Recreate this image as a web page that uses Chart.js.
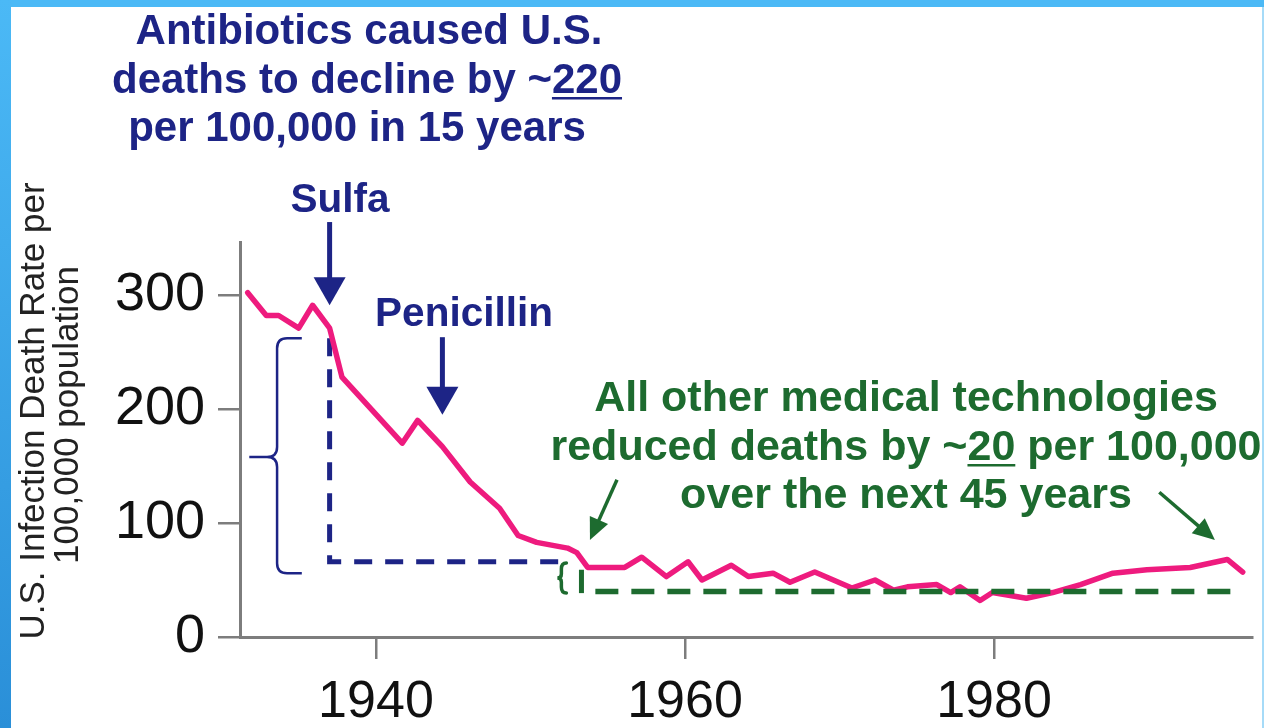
<!DOCTYPE html>
<html><head><meta charset="utf-8">
<script src="https://cdn.jsdelivr.net/npm/chart.js@4"></script>
<style>html,body{margin:0;padding:0;background:#fff;overflow:hidden}#wrap{width:1264px;height:728px;position:relative}canvas{display:block}</style>
</head><body><div id="wrap"><canvas id="c" width="1264" height="728"></canvas></div>
<script>
// ---- data ----
const years = [1931.7,1932.9,1933.7,1935.0,1935.9,1937.0,1937.8,1941.7,1942.7,1944.3,1946.1,1948.0,1949.2,1950.4,1952.4,1953.0,1953.7,1956.1,1957.2,1958.8,1960.2,1961.1,1963.0,1964.1,1965.7,1966.8,1968.4,1970.8,1972.3,1973.5,1974.4,1976.3,1977.2,1977.8,1979.1,1979.9,1982.1,1983.8,1985.6,1987.7,1989.9,1992.7,1995.1,1996.1];
const deathRate = [302,282,282,271,291,271,228,170,190,167,136,113,89,83,78,74,61,61,70,53,66,50,63,53,56,48,57,43,50,41,44,46,39,44,32,39,34,39,46,56,59,61,68,57];
const xTickYears = [1940, 1960, 1980];
const yTickValues = [0, 100, 200, 300];
// reference levels (dashed guides)
const antibioticYears = [1937.0, 1952.4];
const antibioticLevels = [262, 66];
const otherTechYears = [1954.2, 1995.8];
const otherTechLevel = 40;
// annotation anchors (year, value)
const sulfaArrow = {year: 1937.0, from: 364, to: 291};
const penicillinArrow = {year: 1944.3, from: 263, to: 195};
const titleLines = ["Antibiotics caused U.S.", ["deaths to decline by ~", "220"], "per 100,000 in 15 years"];
const greenLines = ["All other medical technologies", ["reduced deaths by ~", "20", " per 100,000"], "over the next 45 years"];
const yTitle = ["U.S. Infection Death Rate per", "100,000 population"];

const NAVY = '#1d2486', GREEN = '#1d6b2f', PINK = '#ee1b7e', AXIS = '#7d7d7d';

function arrow(ctx, x1, y1, x2, y2, w, hl, hw, color) {
  const a = Math.atan2(y2 - y1, x2 - x1);
  ctx.save(); ctx.strokeStyle = color; ctx.fillStyle = color; ctx.lineWidth = w;
  const bx = x2 - Math.cos(a) * hl, by = y2 - Math.sin(a) * hl;
  ctx.beginPath(); ctx.moveTo(x1, y1); ctx.lineTo(bx + Math.cos(a) * 2, by + Math.sin(a) * 2); ctx.stroke();
  ctx.beginPath(); ctx.moveTo(x2, y2);
  ctx.lineTo(bx + Math.sin(a) * hw / 2, by - Math.cos(a) * hw / 2);
  ctx.lineTo(bx - Math.sin(a) * hw / 2, by + Math.cos(a) * hw / 2);
  ctx.closePath(); ctx.fill(); ctx.restore();
}
function textLine(ctx, line, cx, y) {
  const parts = Array.isArray(line) ? line : [line];
  const widths = parts.map(p => ctx.measureText(p).width);
  const total = widths.reduce((a, b) => a + b, 0);
  let x = cx - total / 2;
  parts.forEach((p, i) => {
    ctx.fillText(p, x, y);
    if (i === 1) ctx.fillRect(x, y + 4, widths[i], 2.5);
    x += widths[i];
  });
}

const annotations = {
  id: 'annotations',
  afterDraw(chart) {
    const ctx = chart.ctx, xs = chart.scales.x, ys = chart.scales.y;
    const X = v => xs.getPixelForValue(v), Y = v => ys.getPixelForValue(v);
    ctx.save();
    // titles
    ctx.textAlign = 'left'; ctx.textBaseline = 'alphabetic';
    ctx.fillStyle = NAVY; ctx.font = 'bold 42px "Liberation Sans", Arial, sans-serif';
    [[44, 369], [93, 367], [141, 357]].forEach(([y, cx], i) => textLine(ctx, titleLines[i], cx, y));
    ctx.font = 'bold 40.5px "Liberation Sans", Arial, sans-serif';
    ctx.textAlign = 'center';
    ctx.fillText('Sulfa', 340, 212);
    ctx.fillText('Penicillin', 464, 326);
    ctx.textAlign = 'left';
    ctx.fillStyle = GREEN; ctx.font = 'bold 43px "Liberation Sans", Arial, sans-serif';
    [411, 460, 508].forEach((y, i) => textLine(ctx, greenLines[i], 906, y));
    // arrows
    arrow(ctx, X(sulfaArrow.year), Y(sulfaArrow.from), X(sulfaArrow.year), Y(sulfaArrow.to), 5, 28, 32, NAVY);
    arrow(ctx, X(penicillinArrow.year), Y(penicillinArrow.from), X(penicillinArrow.year), Y(penicillinArrow.to), 5, 28, 32, NAVY);
    arrow(ctx, X(1955.6), Y(138), X(1953.85), Y(85), 3.5, 22, 20, GREEN);
    arrow(ctx, X(1990.7), Y(127), X(1994.3), Y(85), 3.5, 22, 20, GREEN);
    // blue brace
    const tipX = X(1935.2), spX = X(1933.6), cuX = X(1931.8);
    const yT = Y(262), yM = Y(158), yB = Y(56), r = 10;
    ctx.strokeStyle = NAVY; ctx.lineWidth = 2.5; ctx.beginPath();
    ctx.moveTo(tipX, yT); ctx.lineTo(spX + r, yT); ctx.quadraticCurveTo(spX, yT, spX, yT + r);
    ctx.lineTo(spX, yM - r); ctx.quadraticCurveTo(spX, yM, spX - r, yM); ctx.lineTo(cuX, yM);
    ctx.moveTo(spX - r, yM); ctx.quadraticCurveTo(spX, yM, spX, yM + r);
    ctx.lineTo(spX, yB - r); ctx.quadraticCurveTo(spX, yB, spX + r, yB); ctx.lineTo(tipX, yB);
    ctx.stroke();
    // small green brace
    const gx = X(1952.0), gt = Y(65), gb = Y(38.5), gm = (gt + gb) / 2;
    ctx.strokeStyle = GREEN; ctx.lineWidth = 3.5; ctx.lineCap = 'round'; ctx.beginPath();
    ctx.moveTo(gx + 5, gt); ctx.quadraticCurveTo(gx, gt, gx, gt + 6); ctx.lineTo(gx, gm - 4);
    ctx.quadraticCurveTo(gx, gm, gx - 4, gm); ctx.quadraticCurveTo(gx, gm, gx, gm + 4); ctx.lineTo(gx, gb - 6);
    ctx.quadraticCurveTo(gx, gb, gx + 5, gb); ctx.stroke();
    ctx.lineCap = 'butt'; ctx.lineWidth = 5; ctx.beginPath(); ctx.moveTo(X(1953.3), Y(59)); ctx.lineTo(X(1953.3), Y(38.5)); ctx.stroke();
    // y title
    ctx.fillStyle = '#222'; ctx.font = '35px "Liberation Sans", Arial, sans-serif';
    ctx.textAlign = 'center'; ctx.textBaseline = 'middle';
    [[34, 411], [68, 415]].forEach(([x, y], i) => {
      ctx.save(); ctx.translate(x, y); ctx.rotate(-Math.PI / 2); ctx.fillText(yTitle[i], 0, 0); ctx.restore();
    });
    // frame
    ctx.fillStyle = '#4bb9f6'; ctx.fillRect(0, 0, 1264, 7);
    const g = ctx.createLinearGradient(0, 0, 0, 728);
    g.addColorStop(0, '#4bb9f6'); g.addColorStop(1, '#2a8fd8');
    ctx.fillStyle = g; ctx.fillRect(0, 0, 11, 728);
    ctx.fillStyle = '#a6dbf8'; ctx.fillRect(1262, 7, 2, 721);
    ctx.restore();
  }
};

const whiteBg = { id: 'bg', beforeDraw(c) { const x = c.ctx; x.save(); x.fillStyle = '#fff'; x.fillRect(0, 0, c.width, c.height); x.restore(); } };

new Chart(document.getElementById('c'), {
  type: 'line',
  data: {
    datasets: [
      { data: years.map((x, i) => ({x, y: deathRate[i]})), borderColor: PINK, borderWidth: 5.5, pointRadius: 0, tension: 0, order: 3, borderJoinStyle: 'round', borderCapStyle: 'round' },
      { data: [{x: antibioticYears[0], y: antibioticLevels[0]}, {x: antibioticYears[0], y: antibioticLevels[1]}, {x: antibioticYears[1], y: antibioticLevels[1]}], borderColor: NAVY, borderWidth: 5, borderDash: [18, 13], pointRadius: 0, tension: 0, order: 4 },
      { data: [{x: otherTechYears[0], y: otherTechLevel}, {x: otherTechYears[1], y: otherTechLevel}], borderColor: GREEN, borderWidth: 5.5, borderDash: [23, 13], pointRadius: 0, tension: 0, order: 1 }
    ]
  },
  options: {
    responsive: false, animation: false, devicePixelRatio: 1,
    layout: { padding: { left: 0, top: 242, right: 12, bottom: 0 } },
    plugins: { legend: { display: false }, tooltip: { enabled: false } },
    scales: {
      x: {
        type: 'linear', min: 1931.2, max: 1996.7,
        afterBuildTicks: s => { s.ticks = xTickYears.map(v => ({value: v})); },
        afterFit: s => { s.height = 91; },
        grid: { drawOnChartArea: false, drawTicks: true, tickLength: 22, color: AXIS, lineWidth: 2.5 },
        border: { color: AXIS, width: 3 },
        ticks: { font: { family: '"Liberation Sans", Arial, sans-serif', size: 52 }, color: '#111', padding: 12, maxRotation: 0, autoSkip: false, callback: v => String(v) }
      },
      y: {
        type: 'linear', min: 0, max: 346.5,
        afterBuildTicks: s => { s.ticks = yTickValues.map(v => ({value: v})); },
        afterFit: s => { s.width = 240; },
        grid: { drawOnChartArea: false, drawTicks: true, tickLength: 22, color: AXIS, lineWidth: 2.5 },
        border: { color: AXIS, width: 3 },
        ticks: { font: { family: '"Liberation Sans", Arial, sans-serif', size: 54 }, color: '#111', padding: 13, callback: v => String(v) }
      }
    }
  },
  plugins: [whiteBg, annotations]
});
</script>
</body></html>
